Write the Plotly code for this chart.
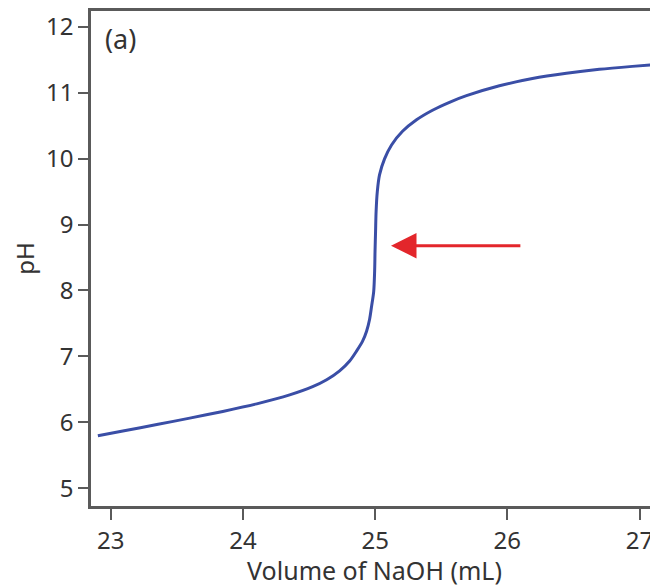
import plotly.graph_objects as go

volume_ml = [22.902, 23.091, 23.348, 23.597, 23.847, 24.104, 24.353, 24.527, 24.633,
             24.731, 24.807, 24.859, 24.905, 24.935, 24.958, 24.973, 24.989, 24.996,
             24.999, 25.003, 25.007, 25.016, 25.033, 25.071, 25.124, 25.207, 25.313,
             25.434, 25.562, 25.691, 25.940, 26.190, 26.447, 26.696, 26.946, 27.14]
ph = [5.796, 5.868, 5.966, 6.063, 6.165, 6.280, 6.415, 6.540, 6.645,
      6.780, 6.930, 7.080, 7.231, 7.382, 7.564, 7.760, 7.987, 8.289,
      8.591, 8.893, 9.195, 9.497, 9.754, 9.996, 10.207, 10.415, 10.590,
      10.735, 10.855, 10.955, 11.105, 11.215, 11.295, 11.355, 11.400, 11.430]

x_ticks = [23, 24, 25, 26, 27]
y_ticks = [5, 6, 7, 8, 9, 10, 11, 12]

arrow_tip = (25.12, 8.68)
arrow_tail = (26.11, 8.68)

font_family = "Noto Sans, Open Sans, sans-serif"
axis_color = "#5a5a5a"
text_color = "#333333"

fig = go.Figure()
fig.add_trace(go.Scatter(
    x=volume_ml, y=ph, mode="lines",
    line=dict(color="#3a4ea6", width=3, shape="spline", smoothing=0.8),
    showlegend=False, hoverinfo="skip"))

fig.add_annotation(
    x=arrow_tip[0], y=arrow_tip[1], ax=arrow_tail[0], ay=arrow_tail[1],
    xref="x", yref="y", axref="x", ayref="y",
    showarrow=True, arrowhead=2, arrowsize=1.7, arrowwidth=3,
    arrowcolor="#e3262b", text="")

fig.add_annotation(
    x=0.022, y=0.985, xref="paper", yref="paper", xanchor="left", yanchor="top",
    text="(a)", showarrow=False,
    font=dict(family=font_family, size=27, color=text_color))

fig.update_layout(
    width=650, height=579,
    margin=dict(l=83, r=0, t=0, b=81),
    paper_bgcolor="white", plot_bgcolor="white",
    font=dict(family=font_family, color=text_color),
    xaxis=dict(
        range=[22.85, 27.14], tickvals=x_ticks, ticks="outside", ticklen=11,
        tickwidth=2, tickcolor=axis_color, showline=True, linecolor=axis_color,
        linewidth=2.5, mirror=True, showgrid=False, zeroline=False,
        tickfont=dict(size=24, color=text_color),
        title=dict(text="Volume of NaOH (mL)", font=dict(size=25, color=text_color),
                   standoff=8)),
    yaxis=dict(
        range=[4.73, 12.24], tickvals=y_ticks, ticks="outside", ticklen=10,
        tickwidth=2, tickcolor=axis_color, showline=True, linecolor=axis_color,
        linewidth=2.5, mirror=False, showgrid=False, zeroline=False,
        tickfont=dict(size=24, color=text_color),
        title=dict(text="pH", font=dict(size=24, color=text_color), standoff=10)),
)

fig.write_html("out.html")
